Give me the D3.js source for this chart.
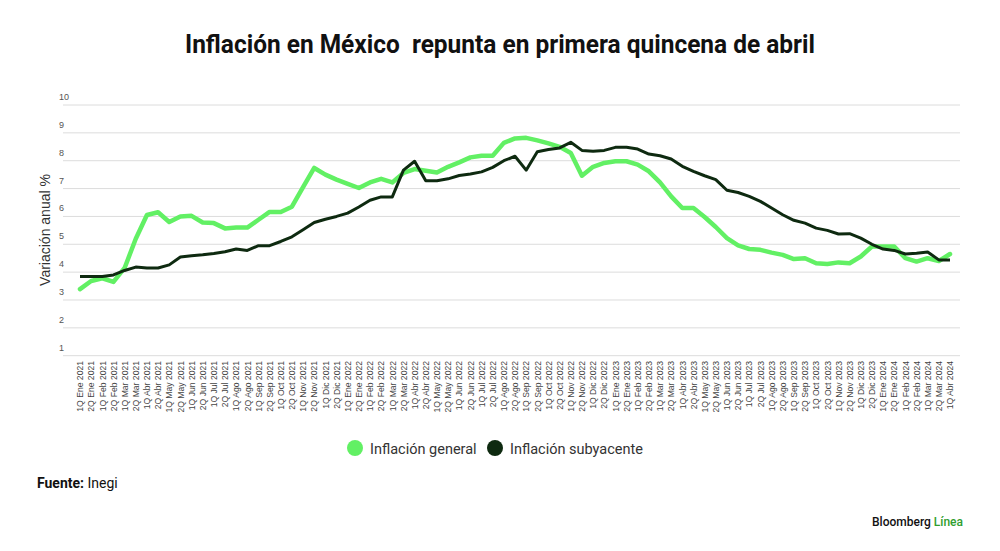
<!DOCTYPE html>
<html>
<head>
<meta charset="utf-8">
<script src="https://cdn.jsdelivr.net/npm/d3@7"></script>
<style>
  body { margin: 0; background: #fff; }
  svg { display: block; font-family: "Liberation Sans", Arial, sans-serif; }
</style>
</head>
<body>
<svg id="chart"></svg>
<script>
// quincenas, Ene 2021 .. 1Q Abr 2024
var meses = ['Ene', 'Feb', 'Mar', 'Abr', 'May', 'Jun', 'Jul', 'Ago', 'Sep', 'Oct', 'Nov', 'Dic'];
var anios = [2021, 2022, 2023, 2024];
var categorias = [];
anios.forEach(function(a) {
  meses.forEach(function(m, k) {
    if (a === 2024 && k > 3) return;
    categorias.push('1Q ' + m + ' ' + a);
    if (a === 2024 && k === 3) return;
    categorias.push('2Q ' + m + ' ' + a);
  });
});

// Inflación general (% anual)
var general = [3.39, 3.68, 3.78, 3.65, 4.15, 5.2, 6.05, 6.15, 5.8, 6.0,
  6.02, 5.78, 5.76, 5.57, 5.6, 5.6, 5.88, 6.16, 6.16, 6.35,
  7.05, 7.74, 7.5, 7.32, 7.17, 7.02, 7.22, 7.35, 7.22, 7.56,
  7.7, 7.64, 7.58, 7.78, 7.94, 8.12, 8.18, 8.18, 8.64, 8.8,
  8.82, 8.73, 8.62, 8.5, 8.28, 7.46, 7.78, 7.92, 7.98, 7.98,
  7.86, 7.62, 7.22, 6.72, 6.3, 6.3, 5.98, 5.62, 5.22, 4.96,
  4.83, 4.8, 4.7, 4.62, 4.47, 4.5, 4.32, 4.29, 4.35, 4.32,
  4.56, 4.92, 4.92, 4.92, 4.5, 4.38, 4.5, 4.4, 4.65];

// Inflación subyacente (% anual)
var subyacente = [3.84, 3.84, 3.84, 3.9, 4.06, 4.18, 4.15, 4.15, 4.26, 4.54,
  4.59, 4.62, 4.67, 4.73, 4.83, 4.78, 4.95, 4.95, 5.1, 5.27,
  5.52, 5.78, 5.9, 6.0, 6.12, 6.34, 6.58, 6.7, 6.7, 7.66,
  7.98, 7.28, 7.28, 7.35, 7.47, 7.52, 7.6, 7.76, 8.0, 8.16,
  7.66, 8.32, 8.4, 8.46, 8.66, 8.37, 8.34, 8.37, 8.48, 8.48,
  8.42, 8.24, 8.18, 8.06, 7.8, 7.62, 7.46, 7.32, 6.94, 6.86,
  6.72, 6.54, 6.3, 6.06, 5.86, 5.76, 5.58, 5.5, 5.37, 5.38,
  5.22, 5.0, 4.83, 4.78, 4.65, 4.68, 4.72, 4.44, 4.44];

var yTicks = [1, 2, 3, 4, 5, 6, 7, 8, 9, 10];
var series = ['Inflación general', 'Inflación subyacente'];
var colores = ['#62f064', '#0e2a10'];

var width = 1000, height = 551;
var svg = d3.select('#chart').attr('width', width).attr('height', height);

var x = d3.scalePoint().domain(categorias).range([80, 950]);
var y = d3.scaleLinear().domain([1, 10]).range([355.7, 105]);

// titulo (doble espacio como en el original)
svg.append('text')
  .attr('x', 500).attr('y', 53)
  .attr('text-anchor', 'middle')
  .style('white-space', 'pre')
  .attr('font-family', 'Roboto, sans-serif')
  .attr('font-weight', 700)
  .attr('font-size', 25)
  .attr('textLength', 630)
  .attr('lengthAdjust', 'spacingAndGlyphs')
  .attr('fill', '#111')
  .text('Inflación en México  repunta en primera quincena de abril');

// grid + etiquetas eje y
var gy = svg.append('g');
gy.selectAll('line').data(yTicks).enter().append('line')
  .attr('x1', 63).attr('x2', 960)
  .attr('y1', function(d) { return y(d); })
  .attr('y2', function(d) { return y(d); })
  .attr('stroke', '#dcdcdc').attr('stroke-width', 1);
gy.selectAll('text').data(yTicks).enter().append('text')
  .attr('x', 59)
  .attr('y', function(d) { return y(d) - 5; })
  .attr('font-size', 9).attr('fill', '#555')
  .text(function(d) { return d; });

svg.append('text')
  .attr('transform', 'translate(50,230) rotate(-90)')
  .attr('text-anchor', 'middle')
  .attr('font-size', 14).attr('fill', '#333')
  .text('Variación anual %');

// eje x
var xAxis = svg.append('g')
  .attr('transform', 'translate(0,358)')
  .call(d3.axisBottom(x).tickSize(0).tickPadding(0));
xAxis.select('.domain').remove();
xAxis.selectAll('text')
  .attr('font-family', '"Liberation Sans", Arial, sans-serif')
  .attr('font-size', 8.6)
  .attr('fill', '#444')
  .attr('text-anchor', 'end')
  .attr('dy', '0.32em')
  .attr('transform', 'translate(0,3) rotate(-90)')
  .attr('x', 0).attr('y', 0);

// lineas
var line = d3.line()
  .x(function(d, i) { return x(categorias[i]); })
  .y(function(d) { return y(d); });

svg.append('path').datum(general)
  .attr('d', line).attr('fill', 'none')
  .attr('stroke', colores[0]).attr('stroke-width', 4.5)
  .attr('stroke-linejoin', 'round').attr('stroke-linecap', 'round');
svg.append('path').datum(subyacente)
  .attr('d', line).attr('fill', 'none')
  .attr('stroke', colores[1]).attr('stroke-width', 3)
  .attr('stroke-linejoin', 'round');

// leyenda
var leg = svg.append('g');
var legX = [355, 495];
series.forEach(function(s, i) {
  leg.append('circle').attr('cx', legX[i]).attr('cy', 448).attr('r', 8)
    .attr('fill', colores[i]);
  leg.append('text').attr('x', legX[i] + 15).attr('y', 453.5)
    .attr('font-family', 'Roboto, sans-serif')
    .attr('font-size', 14.5).attr('fill', '#333')
    .text(s);
});

// fuente
var f = svg.append('text').attr('x', 37).attr('y', 488)
  .attr('font-family', 'Roboto, sans-serif').attr('font-size', 14).attr('fill', '#111');
f.append('tspan').attr('font-weight', 700).text('Fuente: ');
f.append('tspan').text('Inegi');

var b = svg.append('text').attr('x', 963).attr('y', 526).attr('text-anchor', 'end')
  .attr('font-family', 'Roboto, sans-serif').attr('font-size', 12).attr('font-weight', 500)
  .attr('fill', '#111');
b.append('tspan').text('Bloomberg ');
b.append('tspan').attr('fill', '#2f9e2f').text('Línea');
</script>
</body>
</html>
